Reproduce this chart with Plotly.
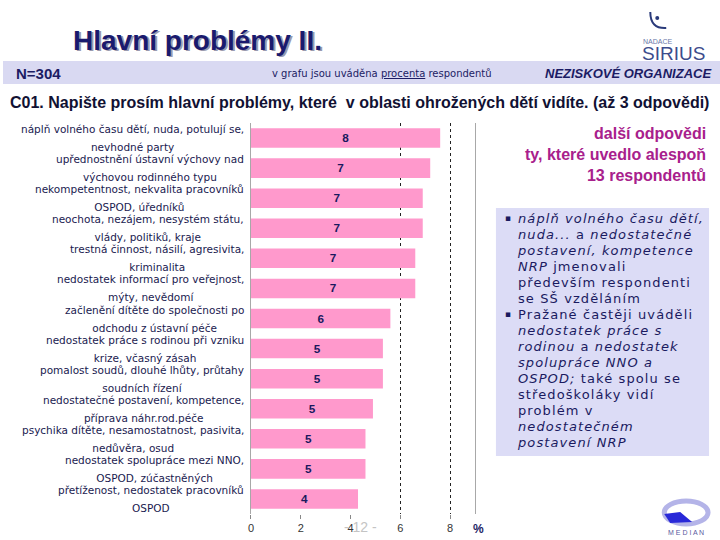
import plotly.graph_objects as go

# ---------------- data ----------------
categories = [
    "náplň volného času dětí, nuda, potulují se,<br>nevhodné party",
    "upřednostnění ústavní výchovy nad<br>výchovou rodinného typu",
    "nekompetentnost, nekvalita pracovníků<br>OSPOD, úředníků",
    "neochota, nezájem, nesystém státu,<br>vlády, politiků, kraje",
    "trestná činnost, násilí, agresivita,<br>kriminalita",
    "nedostatek informací pro veřejnost,<br>mýty, nevědomí",
    "začlenění dítěte do společnosti po<br>odchodu z ústavní péče",
    "nedostatek práce s rodinou při vzniku<br>krize, včasný zásah",
    "pomalost soudů, dlouhé lhůty, průtahy<br>soudních řízení",
    "nedostatečné postavení, kompetence,<br>příprava náhr.rod.péče",
    "psychika dítěte, nesamostatnost, pasivita,<br>nedůvěra, osud",
    "nedostatek spolupráce mezi NNO,<br>OSPOD, zúčastněných",
    "přetíženost, nedostatek pracovníků<br>OSPOD",
]
values = [7.6, 7.2, 6.9, 6.9, 6.6, 6.6, 5.6, 5.3, 5.3, 4.9, 4.6, 4.6, 4.3]
tick_values = [0, 2, 4, 6, 8]
tick_labels = ["0", "2", "4", "6", "8"]
grid_values = [6, 8]

title_text = "Hlavní problémy II."
sample_text = "N=304"
note_text = "v grafu jsou uváděna <u>procenta</u> respondentů"
segment_text = "<b><i>NEZISKOVÉ ORGANIZACE</i></b>"
question_text = "C01. Napište prosím hlavní problémy, které  v oblasti ohrožených dětí vidíte. (až 3 odpovědi)"
side_title_lines = ["další odpovědi", "ty, které uvedlo alespoň", "13 respondentů"]
bullet1_lines = [
    "<i>náplň volného času dětí,</i>",
    "<i>nuda...</i> a <i>nedostatečné</i>",
    "<i>postavení, kompetence</i>",
    "<i>NRP</i> jmenovali",
    "především respondenti",
    "se SŠ vzděláním",
]
bullet2_lines = [
    "Pražané častěji uváděli",
    "<i>nedostatek práce s</i>",
    "<i>rodinou</i> a <i>nedostatek</i>",
    "<i>spolupráce NNO a</i>",
    "<i>OSPOD;</i> také spolu se",
    "středoškoláky vidí",
    "problém v",
    "<i>nedostatečném</i>",
    "<i>postavení NRP</i>",
]

W, H = 720, 540


def px(x):
    return x / W


def py(y):
    return 1 - y / H


def small_lines(text, size, extra=""):
    return "<br>".join(
        f"<span style='font-size:{size}px;{extra}'>{ln}</span>" for ln in text.split("<br>")
    )


NAVY = "#1c1c64"
FONT = "Liberation Sans"

fig = go.Figure()
fig.add_trace(go.Bar(
    x=values, y=categories, orientation="h",
    marker=dict(color="#FF99CC", line=dict(width=0)),
    texttemplate="<b>%{x:.0f}</b>", textposition="inside", textangle=0,
    insidetextanchor="middle",
    textfont=dict(family=FONT, size=13, color="#1a1a5e"),
    hoverinfo="skip", showlegend=False,
))
# invisible helper trace so the secondary (grid-only) axis is rendered
fig.add_trace(go.Scatter(
    x=grid_values, y=[categories[0]] * len(grid_values), xaxis="x2", mode="markers",
    marker=dict(opacity=0, size=1), hoverinfo="skip", showlegend=False,
))

annotations = []
# category labels (centred blocks, right aligned)
for c in categories:
    annotations.append(dict(
        x=px(244), xref="paper", xanchor="right", y=c, yref="y", yanchor="middle",
        yshift=0,
        text=small_lines(c, 10.5), align="center", showarrow=False,
        font=dict(family="DejaVu Sans", size=13.6, color="#1a1a50"),
    ))

# title with shadow
annotations.append(dict(x=px(70), y=py(42), xref="paper", yref="paper", xanchor="left",
                        yanchor="middle", text="<b>" + title_text + "</b>", showarrow=False,
                        font=dict(family=FONT, size=28, color="#9a9aae")))
annotations.append(dict(x=px(68), y=py(40), xref="paper", yref="paper", xanchor="left",
                        yanchor="middle", text="<b>" + title_text + "</b>", showarrow=False,
                        font=dict(family=FONT, size=28, color="#1a1a6e")))
# band texts
annotations.append(dict(x=px(11), y=py(73), xref="paper", yref="paper", xanchor="left",
                        yanchor="middle", text="<b>" + sample_text + "</b>", showarrow=False,
                        font=dict(family=FONT, size=15, color=NAVY)))
annotations.append(dict(x=px(268), y=py(73), xref="paper", yref="paper", xanchor="left",
                        yanchor="middle", text=note_text, showarrow=False,
                        font=dict(family="DejaVu Sans", size=10, color=NAVY)))
annotations.append(dict(x=px(713), y=py(73), xref="paper", yref="paper", xanchor="right",
                        yanchor="middle", text=segment_text, showarrow=False,
                        font=dict(family=FONT, size=13, color=NAVY)))
# question
annotations.append(dict(x=px(5), y=py(102), xref="paper", yref="paper", xanchor="left",
                        yanchor="middle", text="<b>" + question_text + "</b>", showarrow=False,
                        font=dict(family=FONT, size=16, color="#111133")))
# side title
annotations.append(dict(x=px(708), y=py(154), xref="paper", yref="paper", xanchor="right",
                        yanchor="middle", text="<b>" + "<br>".join(side_title_lines) + "</b>",
                        align="right", showarrow=False,
                        font=dict(family=FONT, size=16, color="#a8208c")))
# bullets box text
for lines, yc, yb in [(bullet1_lines, 258, 218), (bullet2_lines, 378, 314)]:
    annotations.append(dict(x=px(514), y=py(yc), xref="paper", yref="paper", xanchor="left",
                            yanchor="middle",
                            text=small_lines("<br>".join(lines), 13, "letter-spacing:1.1px"),
                            align="left", showarrow=False,
                            font=dict(family="DejaVu Sans", size=12.3, color="#1a1a60")))
    annotations.append(dict(x=px(502), y=py(yb), xref="paper", yref="paper", xanchor="left",
                            yanchor="middle", text="▪", showarrow=False,
                            font=dict(family="DejaVu Sans", size=9, color="#1a1a60")))
# axis unit and page number
annotations.append(dict(x=px(477), y=py(529), xref="paper", yref="paper", xanchor="center",
                        yanchor="middle", text="<b>%</b>", showarrow=False,
                        font=dict(family=FONT, size=12, color=NAVY)))
annotations.append(dict(x=px(359), y=py(527), xref="paper", yref="paper", xanchor="center",
                        yanchor="middle", text="- 12 -", showarrow=False,
                        font=dict(family=FONT, size=14, color="#c4c4c4")))
# logos (text parts)
annotations.append(dict(x=px(658), y=py(41), xref="paper", yref="paper", xanchor="center",
                        yanchor="middle", text="NADACE", showarrow=False,
                        font=dict(family=FONT, size=7, color="#6a78a8")))
annotations.append(dict(x=px(673), y=py(54), xref="paper", yref="paper", xanchor="center",
                        yanchor="middle", text="SIRIUS", showarrow=False,
                        font=dict(family=FONT, size=19, color="#3d4c8c")))
annotations.append(dict(x=px(686), y=py(532), xref="paper", yref="paper", xanchor="center",
                        yanchor="middle", text="M E D I A N", showarrow=False,
                        font=dict(family=FONT, size=7, color="#5a5aa0")))

shapes = [
    # header band
    dict(type="rect", xref="paper", yref="paper", x0=0, x1=1, y0=py(84), y1=py(61),
         fillcolor="#d9d9f2", line=dict(width=0), layer="below"),
    # box
    dict(type="rect", xref="paper", yref="paper", x0=px(495), x1=px(709), y0=py(456), y1=py(208),
         fillcolor="#dcdcf6", line=dict(width=0), layer="below"),
    # sirius crescent
    dict(type="path", xref="paper", yref="paper",
         path=f"M {px(650)} {py(12)} Q {px(650)} {py(29)} {px(666)} {py(28)}",
         line=dict(color="#2a3a7a", width=2)),
    dict(type="circle", xref="paper", yref="paper", x0=px(655), x1=px(659), y0=py(20), y1=py(16),
         fillcolor="#2a3a7a", line=dict(width=0)),
    # median logo ring
    dict(type="circle", xref="paper", yref="paper", x0=px(664), x1=px(708), y0=py(524), y1=py(501),
         fillcolor="rgba(0,0,0,0)", line=dict(color="#b4b4e8", width=5)),
    dict(type="path", xref="paper", yref="paper",
         path=f"M {px(664)} {py(514)} L {px(680)} {py(512)} L {px(692)} {py(522)} L {px(670)} {py(523)} Z",
         fillcolor="#2828d8", line=dict(width=0)),
]

n_cat = len(categories)
fig.update_layout(
    width=W, height=H, autosize=False,
    margin=dict(l=0, r=0, t=0, b=0),
    paper_bgcolor="white", plot_bgcolor="white",
    font=dict(family=FONT, color=NAVY),
    bargap=0.35,
    showlegend=False,
    xaxis=dict(domain=[px(249), px(474)], range=[0, 9], tickvals=tick_values, ticktext=tick_labels,
               ticks="outside", ticklen=4, tickcolor="#888888", showgrid=False, zeroline=False,
               showline=False, tickfont=dict(family=FONT, size=11, color="#333333"), fixedrange=True),
    xaxis2=dict(overlaying="x", anchor="y", range=[0, 9], tickvals=grid_values, showgrid=True,
                gridcolor="#222222", griddash="dot", gridwidth=1, showticklabels=False, ticks="",
                showline=False, zeroline=False, side="top"),
    yaxis=dict(domain=[py(514), py(123)], range=[n_cat - 0.5, -0.5], showticklabels=False,
               ticks="", showgrid=False, zeroline=False, showline=True, linecolor="#a8a8a8",
               mirror=True),
    annotations=annotations,
    shapes=shapes,
)

fig.write_html(
    "out.html",
    config={"displayModeBar": False},
    post_script="document.body.style.margin='0';document.body.style.overflow='hidden';",
)
